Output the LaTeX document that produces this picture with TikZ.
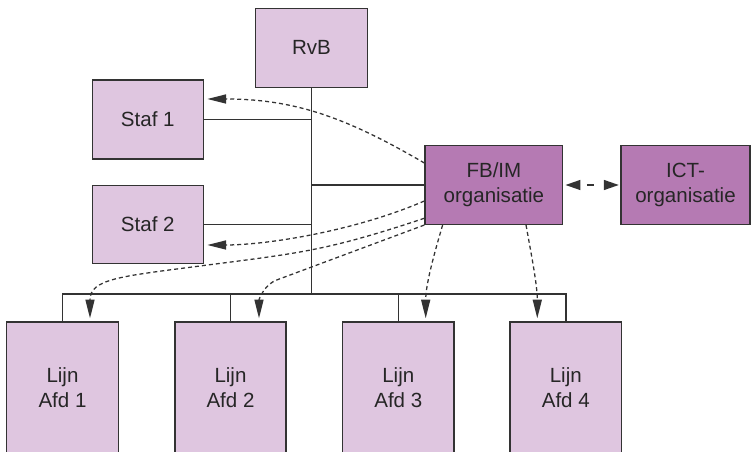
\documentclass[tikz,border=0pt]{standalone}
\usepackage{fontspec}
\setmainfont{Liberation Sans}
\usetikzlibrary{arrows.meta,calc}
\definecolor{lightpurple}{HTML}{DFC6E0}
\definecolor{darkpurple}{HTML}{B57AB3}
\definecolor{ink}{HTML}{333333}
\definecolor{txt}{HTML}{262626}
\begin{document}
\begin{tikzpicture}[x=0.75pt,y=-0.75pt,
  box/.style={draw=ink, line width=1.05pt, text=txt, font=\fontsize{15.4pt}{19pt}\selectfont, align=center, inner sep=0pt},
  lt/.style={box, fill=lightpurple},
  dk/.style={box, fill=darkpurple},
  conn/.style={draw=ink, line width=1.05pt},
  dasharrow/.style={draw=ink, line width=0.95pt, dash pattern=on 3pt off 2.25pt, -{Triangle[length=14pt,width=6.8pt]}},
  bidir/.style={draw=ink, line width=2.2pt, dash pattern=on 5.5pt off 20pt, dash phase=20.1pt, {Triangle[length=11.5pt,width=7pt]}-{Triangle[length=11.5pt,width=7pt]}}
]
\useasboundingbox (0,0) rectangle (751,452);
\clip (0,0) rectangle (751,452);

% boxes
\node[lt, minimum width=83.7pt, minimum height=59.25pt] (rvb) at (311.5,47.8) {RvB};
\node[lt, minimum width=83.25pt, minimum height=59.25pt] (staf1) at (147.8,119.5) {Staf 1};
\node[lt, minimum width=83.25pt, minimum height=58.5pt] (staf2) at (147.8,224.3) {Staf 2};
\node[dk, minimum width=103.3pt, minimum height=59pt] (fb) at (493.9,185) {FB/IM\\organisatie};
\node[dk, minimum width=96.75pt, minimum height=59pt] (ict) at (685.5,185) {ICT-\\organisatie};
\node[lt, minimum width=83.6pt, minimum height=98.25pt] (afd1) at (62.5,387.5) {Lijn\\Afd 1};
\node[lt, minimum width=83.4pt, minimum height=98.25pt] (afd2) at (230.5,387.5) {Lijn\\Afd 2};
\node[lt, minimum width=83.5pt, minimum height=98.25pt] (afd3) at (398.3,387.5) {Lijn\\Afd 3};
\node[lt, minimum width=83.7pt, minimum height=98.25pt] (afd4) at (565.8,387.5) {Lijn\\Afd 4};

% solid organisation lines
\coordinate (bus) at (311.5,294);
\draw[conn] (rvb.south) -- (rvb.south|-bus);
\draw[conn] (staf1.east) -- (staf1.east-|rvb.south);
\draw[conn] (staf2.east) -- (staf2.east-|rvb.south);
\draw[conn] (fb.west) -- (fb.west-|rvb.south);
\draw[conn] (afd1.north) -- (afd1.north|-bus) -- (afd4.north|-bus) -- (afd4.north);
\draw[conn] (afd2.north) -- (afd2.north|-bus);
\draw[conn] (afd3.north) -- (afd3.north|-bus);

% dashed arrows
\draw[dasharrow] ([shift={(0,-22)}]fb.west) .. controls (348,118.5) and (296,99) .. ([shift={(3.4,-20.5)}]staf1.east);
\draw[dasharrow] ([shift={(0,16)}]fb.west) .. controls (355,231) and (267,245) .. ([shift={(3.4,20.7)}]staf2.east);
\draw[dasharrow] ([shift={(0,33.3)}]fb.west) .. controls (325,251.3) and (300,253) .. (200,266) .. controls (120,276.4) and (90,279) .. ([shift={(27.5,-3)}]afd1.north);
\draw[dasharrow] (fb.south west) -- (276.7,280) .. controls (264.7,284.4) and (259,299) .. ([shift={(28.5,-3)}]afd2.north);
\draw[dasharrow] ([shift={(18.3,0)}]fb.south west) .. controls (433.3,256.7) and (425.7,285) .. ([shift={(27.4,-3)}]afd3.north);
\draw[dasharrow] ([shift={(101.7,0)}]fb.south west) .. controls (531.7,256.7) and (537.3,285) .. ([shift={(-28.5,-3)}]afd4.north);

% FB/IM <-> ICT
\draw[bidir] ([shift={(1.5,0)}]fb.east) -- ([shift={(-1,0)}]ict.west);
\end{tikzpicture}
\end{document}
